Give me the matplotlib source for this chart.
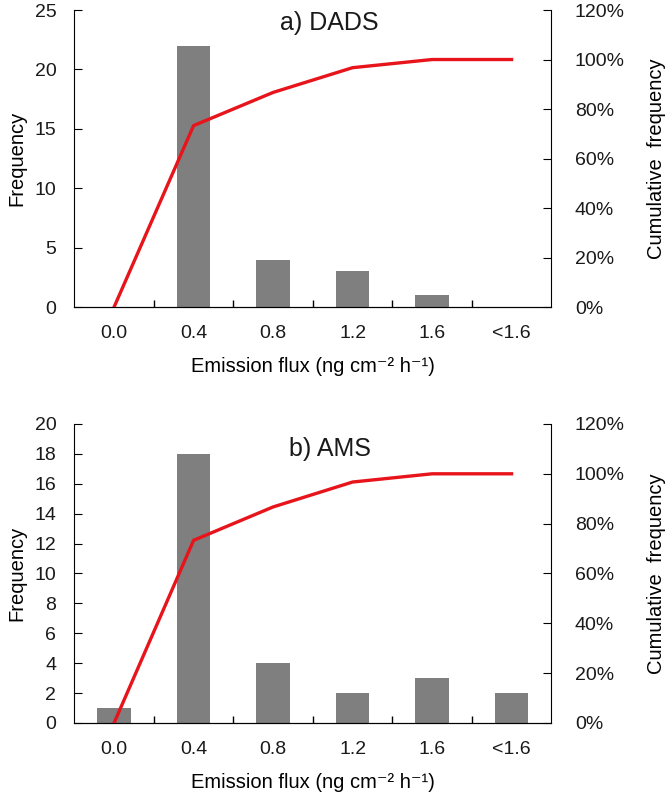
import matplotlib.pyplot as plt
from matplotlib.ticker import PercentFormatter

plt.rcParams['font.family'] = ['Liberation Sans', 'DejaVu Sans']
plt.rcParams['text.color'] = '#1a1a1a'

# 数据
categories = ['0.0', '0.4', '0.8', '1.2', '1.6', '<1.6']
freq_dads = [0, 22, 4, 3, 1, 0]
freq_ams = [1, 18, 4, 2, 3, 2]
cum_dads = [0, 73.3, 86.7, 96.7, 100, 100]
cum_ams = [0, 73.3, 86.7, 96.7, 100, 100]

fig = plt.figure(figsize=(6.66, 7.95), dpi=100)

#每个子图：位置, 频数, 累计频率, 标题, y最大值, 步长, 标题y位置
panels = [
    ([0.1116, 0.6138, 0.7162, 0.3736], freq_dads, cum_dads, 'a) DADS', 25, 5, 0.955),
    ([0.1116, 0.0906, 0.7162, 0.3761], freq_ams, cum_ams, 'b) AMS', 20, 2, 0.915),
]

x = [i + 0.5 for i in range(len(categories))]

for rect, freq, cum, title, ymax, ystep, ty in panels:
    ax = fig.add_axes(rect)
    ax.bar(x, freq, width=0.42, color='#7f7f7f', zorder=2)
    ax.set_xlim(0, len(categories))
    ax.set_ylim(0, ymax)
    ax.set_yticks(range(0, ymax + 1, ystep))
    ax.set_xticks(x)
    ax.set_xticklabels(categories)
    ax.set_xticks(range(1, len(categories)), minor=True)
    ax.tick_params(axis='x', which='major', length=0, pad=13, labelsize=14, labelcolor='#1a1a1a')
    ax.tick_params(axis='x', which='minor', direction='in', length=5, width=1)
    ax.tick_params(axis='y', direction='in', length=6, labelsize=14, pad=13, labelcolor='#1a1a1a')
    ax.spines['top'].set_visible(False)
    ax.spines['right'].set_visible(False)
    ax.set_ylabel('Frequency', fontsize=14.5, labelpad=6)
    ax.set_xlabel('Emission flux (ng cm⁻² h⁻¹)', fontsize=14.5, labelpad=11)
    ax.text(0.535, ty, title, transform=ax.transAxes, ha='center', va='center', fontsize=18)

    ax2 = ax.twinx()
    ax2.plot(x, cum, color='#e8141b', lw=2.4, zorder=3)
    ax2.set_ylim(0, 120)
    ax2.set_yticks(range(0, 121, 20))
    ax2.yaxis.set_major_formatter(PercentFormatter(decimals=0))
    ax2.tick_params(axis='y', direction='in', length=6, labelsize=14, pad=17, labelcolor='#1a1a1a')
    ax2.spines['top'].set_visible(False)
    ax2.spines['left'].set_visible(False)
    ax2.set_ylabel('Cumulative  frequency', fontsize=14.5, labelpad=16)

plt.savefig('out.png', dpi=100)
